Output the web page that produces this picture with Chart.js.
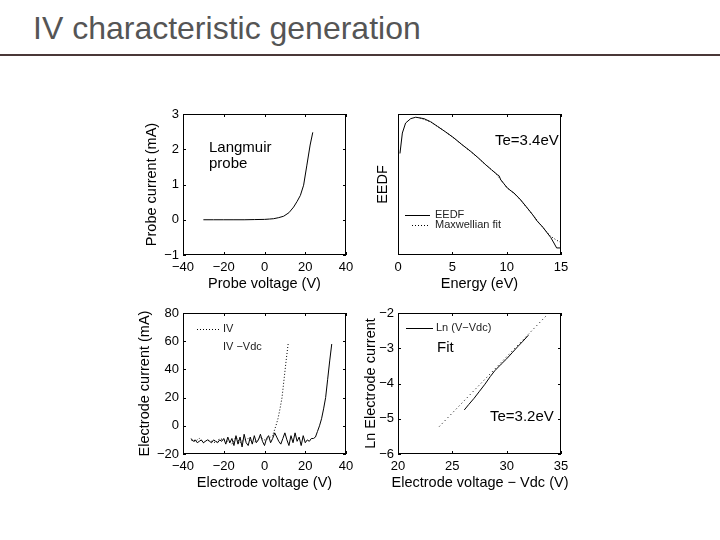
<!DOCTYPE html>
<html>
<head>
<meta charset="utf-8">
<script src="https://cdn.jsdelivr.net/npm/chart.js@4"></script>
<style>
  body { margin: 0; width: 720px; height: 540px; background: #fff; position: relative; overflow: hidden; font-family: "Liberation Sans", Arial, sans-serif; }
  h1 { position: absolute; left: 33px; top: 12px; margin: 0; font-weight: normal; font-size: 32px; line-height: 1; color: #555; }
  .rule { position: absolute; left: 0; top: 54px; width: 720px; height: 2px; background: #4a3838; }
  canvas { position: absolute; }
</style>
</head>
<body>
<h1>IV characteristic generation</h1>
<div class="rule"></div>
<canvas id="probeChart"></canvas>
<canvas id="eedfChart"></canvas>
<canvas id="electrodeChart"></canvas>
<canvas id="lnChart"></canvas>
<script>
// Langmuir probe IV
const probeV = [-30, -25, -20, -15, -10, -5, 0, 2.5, 4.5, 7, 9.4, 12, 14.3, 16, 17.6, 19.2, 20.8, 22.4, 23.7];
const probeI = [0, 0, 0, 0, 0, 0.005, 0.01, 0.02, 0.03, 0.06, 0.1, 0.2, 0.36, 0.52, 0.69, 0.98, 1.55, 2.12, 2.48];
const probeVTicks = [-40, -20, 0, 20, 40];
const probeITicks = [-1, 0, 1, 2, 3];

// EEDF + Maxwellian fit
const energy = [0.18, 0.4, 0.7, 1.17, 1.63, 2.39, 3.0, 3.62, 4.4, 5.15, 5.9, 6.69, 7.4, 8.07, 8.6, 9.14, 9.3, 9.45, 9.75, 10.06, 10.4, 10.67, 11.3, 11.9, 12.4, 12.82, 13.3, 13.74, 14.05, 14.35, 14.6, 15];
const eedf = [0.72, 0.865, 0.936, 0.967, 0.977, 0.967, 0.945, 0.913, 0.872, 0.83, 0.782, 0.735, 0.688, 0.64, 0.605, 0.57, 0.562, 0.534, 0.505, 0.475, 0.455, 0.44, 0.39, 0.333, 0.285, 0.239, 0.2, 0.156, 0.125, 0.085, 0.05, 0.05];
const fitEnergy = [2, 3, 4, 5, 6, 7, 8, 9, 10, 11, 12, 13, 14, 14.6, 15];
const fitEedf = [0.972, 0.945, 0.893, 0.838, 0.776, 0.714, 0.645, 0.578, 0.481, 0.414, 0.323, 0.226, 0.135, 0.105, 0.088];
const energyTicks = [0, 5, 10, 15];
const eedfTicks = [0, 1];

// Electrode current: IV-Vdc (solid) and IV (dotted)
const elecV = [-36, -35, -34, -33, -32, -31, -30, -29, -28, -27, -26, -25, -24, -23, -22, -21, -20, -19, -18, -17, -16, -15, -14, -13, -12, -11, -10, -9, -8, -7, -6, -5, -4, -3, -2, -1, 0, 1, 2, 3, 4, 5, 6, 7, 8, 9, 10, 11, 12, 13, 14, 15, 16, 17, 18, 19, 20, 21, 22, 23, 24, 25, 26, 27, 28, 29, 30, 31, 32, 33];
const elecI = [-9, -11, -10, -12, -11, -10, -12, -11, -10, -11, -12, -10, -11, -12, -10, -11, -9, -13, -8, -12, -9, -14, -7, -13, -8, -15, -6, -12, -14, -8, -13, -7, -12, -10, -6, -11, -14, -9, -7, -12, -9, -5, -8, -11, -13, -9, -5, -10, -14, -7, -12, -5, -11, -8, -14, -7, -12, -10, -11, -9, -9, -8, -4, 0, 5, 12, 20, 33, 46, 58];
const ivV = [-36, -34, -32, -30, -28, -26, -24, -22, -20, -18, -16, -14, -12, -10, -8, -6, -4, -2, 0, 2, 4, 5.6, 6.6, 7.6, 8.6, 9.6, 10.6, 11.6];
const ivI = [-10, -11, -9, -12, -10, -11, -12, -9, -10, -11, -13, -8, -12, -10, -9, -12, -11, -8, -10, -9, -7, 0, 5, 12, 20, 33, 46, 58];
const elecVTicks = [-40, -20, 0, 20, 40];
const elecITicks = [-20, 0, 20, 40, 60, 80];

// Ln electrode current and linear fit
const lnV = [26.1, 26.5, 27, 27.5, 28, 28.5, 28.9, 29.5, 30, 30.5, 31, 31.5, 32];
const lnI = [-4.75, -4.6, -4.42, -4.22, -4.02, -3.8, -3.64, -3.45, -3.3, -3.13, -2.96, -2.8, -2.63];
const lnFitV = [23.8, 33.7];
const lnFitI = [-5.22, -2.06];
const lnVTicks = [20, 25, 30, 35];
const lnITicks = [-6, -5, -4, -3, -2];

const FONT = '"Liberation Sans", Arial, sans-serif';
const fmt = (v) => String(v).replace('-', '\u2212');
const pts = (xs, ys) => xs.map((x, i) => ({ x: x, y: ys[i] }));

// frame with inward ticks, legend samples and text notes
const framePlugin = {
    id: 'frame',
    afterDatasetsDraw(chart, args, opts) {
        const { ctx, chartArea: a, scales } = chart;
        ctx.save();
        ctx.strokeStyle = '#000';
        ctx.lineWidth = 1;
        ctx.strokeRect(a.left + 0.5, a.top + 0.5, a.right - a.left - 1, a.bottom - a.top - 1);
        ctx.beginPath();
        scales.x.ticks.forEach(t => {
            const px = Math.round(scales.x.getPixelForValue(t.value)) + 0.5;
            ctx.moveTo(px, a.bottom); ctx.lineTo(px, a.bottom - 3);
            ctx.moveTo(px, a.top); ctx.lineTo(px, a.top + 3);
        });
        if (opts.yTicks) {
            scales.y.ticks.forEach(t => {
                const py = Math.round(scales.y.getPixelForValue(t.value)) + 0.5;
                ctx.moveTo(a.left, py); ctx.lineTo(a.left + 3, py);
                ctx.moveTo(a.right, py); ctx.lineTo(a.right - 3, py);
            });
        }
        ctx.stroke();

        (opts.samples || []).forEach(s => {
            ctx.beginPath();
            ctx.setLineDash(s.dash || []);
            ctx.moveTo(s.x1 - opts.offX, s.y - opts.offY + 0.5);
            ctx.lineTo(s.x2 - opts.offX, s.y - opts.offY + 0.5);
            ctx.stroke();
        });
        ctx.setLineDash([]);

        ctx.textBaseline = 'middle';
        (opts.notes || []).forEach(n => {
            ctx.fillStyle = n.color || '#000';
            ctx.textAlign = n.align || 'left';
            ctx.font = n.size + 'px ' + FONT;
            ctx.fillText(n.text, n.x - opts.offX, n.y - opts.offY);
        });
        ctx.restore();
    }
};

function makeChart(id, area, cfg) {
    const offX = area.left - 60, offY = area.top - 14;
    const padL = cfg.yTitleX - 9 - offX;
    const canvas = document.getElementById(id);
    canvas.width = area.w + 76;
    canvas.height = area.h + 60;
    canvas.style.left = offX + 'px';
    canvas.style.top = offY + 'px';

    const tickFont = { family: FONT, size: 13 };
    const titleFont = { family: FONT, size: 14.5 };

    return new Chart(canvas, {
        type: 'line',
        data: { datasets: cfg.datasets },
        options: {
            responsive: false,
            animation: false,
            layout: { padding: { left: padL, top: 14, right: 16, bottom: 8 } },
            plugins: {
                legend: { display: false },
                tooltip: { enabled: false },
                frame: { yTicks: cfg.yTicksShown, notes: cfg.notes, samples: cfg.samples, offX: offX, offY: offY }
            },
            elements: { point: { radius: 0 }, line: { tension: 0, borderWidth: 1, borderColor: '#000' } },
            scales: {
                x: {
                    type: 'linear',
                    min: cfg.xTicks[0], max: cfg.xTicks[cfg.xTicks.length - 1],
                    afterBuildTicks: s => { s.ticks = cfg.xTicks.map(v => ({ value: v })); },
                    afterFit: s => { s.height = 38; },
                    grid: { display: false, drawTicks: false },
                    border: { display: false },
                    ticks: { color: '#000', font: tickFont, padding: 5, maxRotation: 0, autoSkip: false, callback: v => fmt(v) },
                    title: { display: cfg.xTitle !== '', text: cfg.xTitle, color: '#000', font: titleFont, padding: 0 }
                },
                y: {
                    type: 'linear',
                    min: cfg.yTicks[0], max: cfg.yTicks[cfg.yTicks.length - 1],
                    afterBuildTicks: s => { s.ticks = cfg.yTicks.map(v => ({ value: v })); },
                    afterFit: s => { s.width = 60 - padL; },
                    grid: { display: false, drawTicks: false },
                    border: { display: false },
                    ticks: { display: cfg.yTicksShown, color: '#000', font: tickFont, padding: 4, autoSkip: false, callback: v => fmt(v) },
                    title: { display: true, text: cfg.yTitle, color: '#000', font: titleFont, padding: 0 }
                }
            }
        },
        plugins: [framePlugin]
    });
}

const solid = (data) => ({ data: data, borderColor: '#000', borderWidth: 1, fill: false });
const dotted = (data, dash) => ({ data: data, borderColor: '#000', borderWidth: 1, borderDash: dash || [1, 2], fill: false });

makeChart('probeChart', { left: 183, top: 114, w: 163, h: 141 }, {
    yTitleX: 152,
    xTicks: probeVTicks, yTicks: probeITicks, yTicksShown: true,
    xTitle: 'Probe voltage (V)', yTitle: 'Probe current (mA)',
    datasets: [solid(pts(probeV, probeI))],
    notes: [
        { text: 'Langmuir', x: 209, y: 148, size: 15 },
        { text: 'probe', x: 209, y: 164, size: 15 }
    ]
});

makeChart('eedfChart', { left: 398, top: 114, w: 163, h: 141 }, {
    yTitleX: 383,
    xTicks: energyTicks, yTicks: eedfTicks, yTicksShown: false,
    xTitle: 'Energy (eV)', yTitle: 'EEDF',
    datasets: [dotted(pts(fitEnergy, fitEedf)), solid(pts(energy, eedf))],
    samples: [
        { x1: 405, x2: 430, y: 215 },
        { x1: 412, x2: 429, y: 225, dash: [1, 2] }
    ],
    notes: [
        { text: 'Te=3.4eV', x: 495, y: 141, size: 15 },
        { text: 'EEDF', x: 435, y: 215, size: 11, color: '#222' },
        { text: 'Maxwellian fit', x: 435, y: 225, size: 11, color: '#222' }
    ]
});

makeChart('electrodeChart', { left: 183, top: 313, w: 163, h: 141 }, {
    yTitleX: 145,
    xTicks: elecVTicks, yTicks: elecITicks, yTicksShown: true,
    xTitle: 'Electrode voltage (V)', yTitle: 'Electrode current (mA)',
    datasets: [dotted(pts(ivV, ivI)), solid(pts(elecV, elecI))],
    samples: [
        { x1: 197, x2: 220, y: 329, dash: [1, 2] }
    ],
    notes: [
        { text: 'IV', x: 223, y: 329, size: 11, color: '#222' },
        { text: 'IV \u2212Vdc', x: 223, y: 347, size: 11, color: '#222' }
    ]
});

// this x title is wider than the plot, so it is drawn as a note
makeChart('lnChart', { left: 398, top: 313, w: 163, h: 141 }, {
    yTitleX: 371,
    xTicks: lnVTicks, yTicks: lnITicks, yTicksShown: true,
    xTitle: '', yTitle: 'Ln Electrode current',
    datasets: [dotted(pts(lnFitV, lnFitI), [1, 3]), solid(pts(lnV, lnI))],
    samples: [
        { x1: 406, x2: 433, y: 328 }
    ],
    notes: [
        { text: 'Ln (V\u2212Vdc)', x: 436, y: 328, size: 11, color: '#222' },
        { text: 'Fit', x: 437, y: 348, size: 15 },
        { text: 'Te=3.2eV', x: 490, y: 417, size: 15 },
        { text: 'Electrode voltage \u2212 Vdc (V)', x: 480, y: 483, size: 14.5, align: 'center' }
    ]
});
</script>
</body>
</html>
